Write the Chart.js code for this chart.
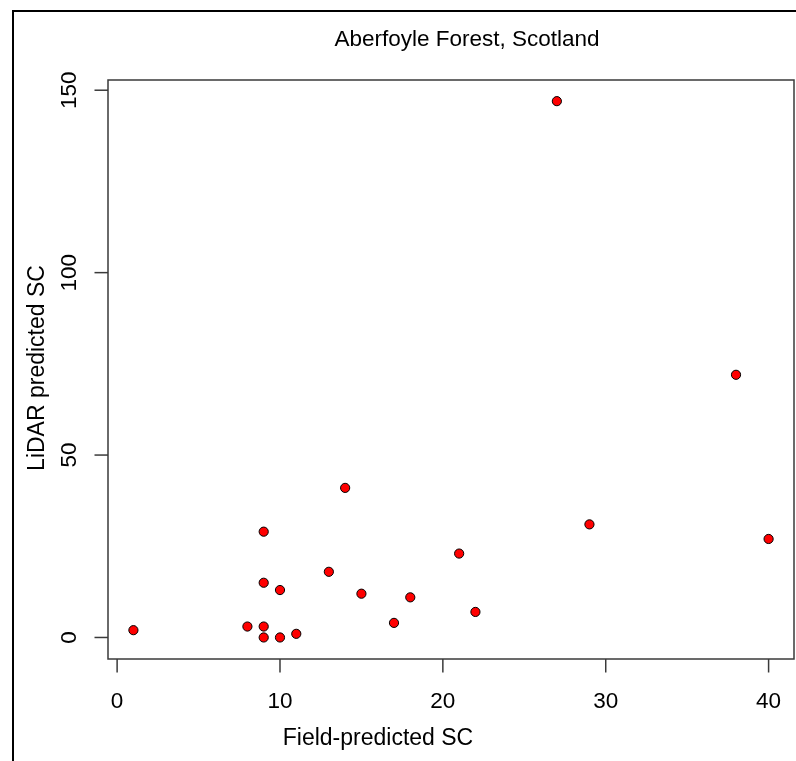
<!DOCTYPE html>
<html>
<head>
  <title>Aberfoyle Forest, Scotland</title>
  <script src="https://cdn.jsdelivr.net/npm/chart.js"></script>
  <style>
    body {
      margin: 0;
      padding: 0;
      background: #fff;
    }
  </style>
</head>
<body>

  <canvas id="myChart" width="796" height="761"></canvas>

  <script>
    // field-predicted vs LiDAR-predicted SC
    const fieldSC = [1, 8, 9, 9, 10, 11, 9, 10, 9, 13, 14, 15, 17, 18, 21, 22, 27, 29, 38, 40];
    const lidarSC = [2, 3, 3, 0, 0, 1, 15, 13, 29, 18, 41, 12, 4, 11, 23, 7, 147, 31, 72, 27];
    const xTicks = [0, 10, 20, 30, 40];
    const yTicks = [0, 50, 100, 150];

    const FONT = "'Liberation Sans', Arial, sans-serif";

    // R-style frame, box, axes and texts
    const rAxes = {
      id: 'rAxes',
      afterDraw(chart) {
        const c = chart.ctx;
        const a = chart.chartArea;
        const xs = chart.scales.x;
        const ys = chart.scales.y;
        c.save();

        // outer frame (cropped)
        c.strokeStyle = '#000';
        c.lineWidth = 2;
        c.beginPath();
        c.moveTo(13, 761);
        c.lineTo(13, 11);
        c.lineTo(796, 11);
        c.stroke();

        // plot box
        c.strokeStyle = '#3a3a3a';
        c.lineWidth = 1.5;
        c.strokeRect(a.left, a.top, a.right - a.left, a.bottom - a.top);

        c.fillStyle = '#000';
        c.font = '22.5px ' + FONT;

        // x ticks
        c.textAlign = 'center';
        c.textBaseline = 'alphabetic';
        xTicks.forEach(v => {
          const px = xs.getPixelForValue(v);
          c.beginPath();
          c.moveTo(px, a.bottom);
          c.lineTo(px, a.bottom + 13.5);
          c.stroke();
          c.fillText(String(v), px, 708);
        });

        // y ticks (labels parallel to axis)
        yTicks.forEach(v => {
          const py = ys.getPixelForValue(v);
          c.beginPath();
          c.moveTo(a.left, py);
          c.lineTo(a.left - 13.5, py);
          c.stroke();
          c.save();
          c.translate(76, py);
          c.rotate(-Math.PI / 2);
          c.fillText(String(v), 0, 0);
          c.restore();
        });

        // title
        c.fillText('Aberfoyle Forest, Scotland', 467, 46);

        // axis titles
        c.font = '23px ' + FONT;
        c.fillText('Field-predicted SC', 378, 745);
        c.save();
        c.translate(44, 368);
        c.rotate(-Math.PI / 2);
        c.fillText('LiDAR predicted SC', 0, 0);
        c.restore();

        c.restore();
      }
    };

    const ctx = document.getElementById('myChart').getContext('2d');
    const chart = new Chart(ctx, {
      type: 'scatter',
      data: {
        datasets: [{
          data: fieldSC.map((x, i) => ({ x: x, y: lidarSC[i] })),
          pointRadius: 4.6,
          pointHoverRadius: 4.6,
          pointBackgroundColor: '#ff0000',
          pointBorderColor: '#000',
          pointBorderWidth: 1,
          clip: false
        }]
      },
      options: {
        responsive: false,
        animation: false,
        events: [],
        layout: {
          autoPadding: false,
          padding: { left: 108, top: 80, right: 2, bottom: 102 }
        },
        plugins: {
          legend: { display: false },
          tooltip: { enabled: false },
          title: { display: false }
        },
        scales: {
          x: { type: 'linear', min: -0.56, max: 41.56, display: false },
          y: { type: 'linear', min: -5.9, max: 152.8, display: false }
        }
      },
      plugins: [rAxes]
    });
  </script>

</body>
</html>
